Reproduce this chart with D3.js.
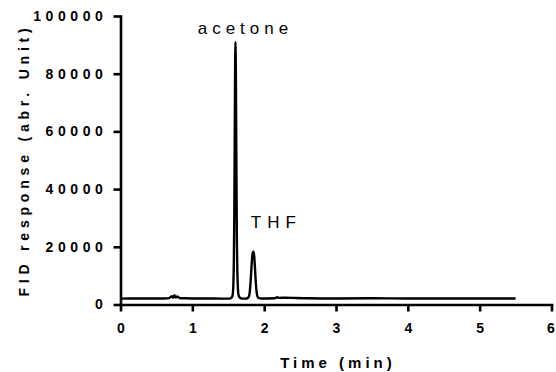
<!DOCTYPE html>
<html>
<head>
<meta charset="utf-8">
<script src="https://cdn.jsdelivr.net/npm/d3@7"></script>
<style>
  body { margin: 0; background: #fff; }
  svg { display: block; }
  .axis path, .axis line { stroke: #000; stroke-width: 2.6; }
  .axis text { font-family: "Liberation Sans", Arial, sans-serif; font-weight: bold; font-size: 14px; fill: #000; letter-spacing: 4.6px; }
  .x-axis text { letter-spacing: 0; }
  .title { font-family: "Liberation Sans", Arial, sans-serif; font-weight: bold; fill: #000; }
  .peak-label { font-family: "Liberation Sans", Arial, sans-serif; font-size: 17px; fill: #000; }
  .trace { fill: none; stroke: #000; stroke-width: 2.4; stroke-linejoin: round; }
</style>
</head>
<body>
<svg width="556" height="372"></svg>
<script>
// chromatogram: time (min) and FID response
const times =
  [ 0, 0.3, 0.6, 0.68, 0.71, 0.73, 0.75, 0.77, 0.79, 0.82, 0.9, 1.0, 1.2, 1.4, 1.5
  , 1.53, 1.555, 1.565, 1.572, 1.578, 1.584, 1.589, 1.594, 1.6, 1.606, 1.611, 1.616, 1.621, 1.627, 1.634, 1.643, 1.66, 1.68, 1.71
  , 1.74, 1.77, 1.79, 1.8, 1.81, 1.82, 1.83, 1.84, 1.85, 1.86, 1.87, 1.88, 1.89, 1.9, 1.91, 1.93, 1.96
  , 2.05, 2.15, 2.18, 2.21, 2.3, 2.45, 2.6, 2.8, 3.0, 3.5, 4.0, 4.5, 5.0, 5.5
  ]
const response =
  [ 2050, 2100, 2100, 2200, 2900, 2300, 3200, 2400, 2800, 2250, 2150, 2100, 2100, 2050, 2050
  , 2150, 2700, 4000, 7500, 15000, 30000, 52000, 76000, 91000, 80000, 58000, 37000, 21000, 11000, 6000, 3300, 2400, 2150, 2050
  , 2050, 2200, 3000, 4500, 7500, 11500, 15500, 17900, 18300, 17000, 13500, 9000, 5500, 3500, 2600, 2200, 2100
  , 2100, 2150, 2500, 2300, 2350, 2250, 2150, 2100, 2100, 2150, 2100, 2100, 2100, 2100
  ]
const xTicks = [0, 1, 2, 3, 4, 5, 6]
const yTicks = [0, 20000, 40000, 60000, 80000, 100000]
const peakNames = ['acetone', 'THF']
const peakTimes = [1.6, 1.85]
const peakHeights = [91000, 18300]

const svg = d3.select('svg')
    , x = d3.scaleLinear().domain([0, 6]).range([120.5, 551.5])
    , y = d3.scaleLinear().domain([0, 100000]).range([304.5, 16])
    , points = times.map((t, i) => [t, response[i]])

svg.append('g')
    .attr('class', 'axis x-axis')
    .attr('transform', `translate(0,${y(0)})`)
    .call(d3.axisBottom(x).tickValues(xTicks).tickSize(7).tickSizeOuter(0).tickPadding(12).tickFormat(d3.format('d')))
    .call(g => g.selectAll('text').attr('dx', d => d === 6 ? '-1px' : 0))

svg.append('g')
    .attr('class', 'axis y-axis')
    .attr('transform', `translate(${x(0)},0)`)
    .call(d3.axisLeft(y).tickValues(yTicks).tickSize(7).tickSizeOuter(0).tickPadding(6).tickFormat(d3.format('d')))

svg.selectAll('.axis .domain').attr('stroke-linecap', 'square')

svg.append('path')
    .datum(points)
    .attr('class', 'trace')
    .attr('d', d3.line().x(d => x(d[0])).y(d => y(d[1])).curve(d3.curveMonotoneX))

// peak labels
svg.selectAll('text.peak-label')
    .data(peakNames)
    .join('text')
    .attr('class', 'peak-label')
    .attr('x', (d, i) => x(peakTimes[i]) + (i ? 23 : 10))
    .attr('y', (d, i) => y(peakHeights[i]) - (i ? 24 : 8))
    .attr('text-anchor', 'middle')
    .style('letter-spacing', (d, i) => i ? '6px' : '5px')
    .text(d => d)

svg.append('text')
    .attr('class', 'title')
    .attr('x', 338)
    .attr('y', 368)
    .attr('text-anchor', 'middle')
    .style('font-size', '15px')
    .style('letter-spacing', '4px')
    .text('Time (min)')

svg.append('text')
    .attr('class', 'title')
    .attr('transform', 'translate(28.5,160) rotate(-90)')
    .attr('text-anchor', 'middle')
    .style('font-size', '14px')
    .style('letter-spacing', '4.8px')
    .text('FID response (abr. Unit)')
</script>
</body>
</html>
